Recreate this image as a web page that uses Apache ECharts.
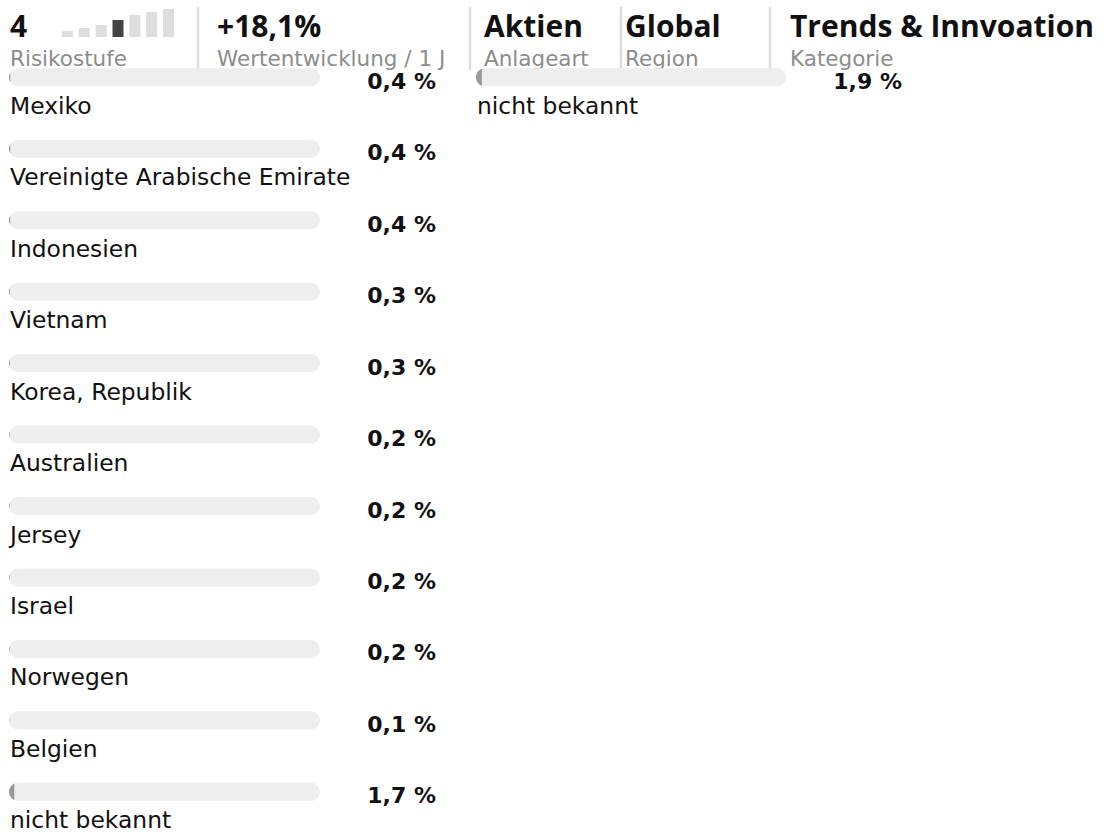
<!DOCTYPE html>
<html>
<head>
<meta charset="utf-8">
<script src="https://cdn.jsdelivr.net/npm/echarts@6/dist/echarts.min.js"></script>
<style>
  html, body { margin: 0; padding: 0; background: #fff; }
  #chart { width: 1119px; height: 832px; }
</style>
</head>
<body>
<div id="chart"></div>
<script>
// Länderanteile (linke Spalte)
var countries = ['Mexiko', 'Vereinigte Arabische Emirate', 'Indonesien', 'Vietnam', 'Korea, Republik',
    'Australien', 'Jersey', 'Israel', 'Norwegen', 'Belgien', 'nicht bekannt'];
var countryShares = [0.4, 0.4, 0.4, 0.3, 0.3, 0.2, 0.2, 0.2, 0.2, 0.1, 1.7];

// zweite Spalte
var otherNames = ['nicht bekannt'];
var otherShares = [1.9];

// Kopfzeile
var headValues = ['4', '+18,1%', 'Aktien', 'Global', 'Trends & Innvoation'];
var headLabels = ['Risikostufe', 'Wertentwicklung / 1 J', 'Anlageart', 'Region', 'Kategorie'];

// Risikoskala 1..7, Balkenhöhen
var riskSteps = ['1', '2', '3', '4', '5', '6', '7'];
var riskBars = [6, 9, 12, 17, 22, 25, 28];
var riskLevel = 4;

var BOLD_FONT = 'bold 30px "Open Sans", sans-serif';
var SUB_FONT = '21.5px "DejaVu Sans", sans-serif';
var NAME_FONT = '23.4px "DejaVu Sans", sans-serif';
var VALUE_FONT = 'bold 22px "DejaVu Sans", sans-serif';
var headX = [10, 217, 484, 625, 790];
var sepX = [198, 470, 621, 770];

function fmt(v) {
    return v.toFixed(1).replace('.', ',') + ' %';
}

function renderShare(names) {
    return function (params, api) {
        var v = api.value(0);
        var idx = api.value(1);
        var start = api.coord([0, idx]);
        var end = api.coord([100, idx]);
        var fillEnd = api.coord([v, idx]);
        var h = 18, r = h / 2;
        var x0 = start[0], cy = start[1], w = end[0] - x0;
        var fw = fillEnd[0] - x0;
        // Füllung, an der runden Kappe abgeschnitten
        var top = [], bottom = [];
        var steps = 24;
        for (var s = 0; s <= steps; s++) {
            var x = fw * s / steps;
            var hh = r;
            if (x < r) hh = Math.sqrt(Math.max(0, r * r - (r - x) * (r - x)));
            else if (x > w - r) hh = Math.sqrt(Math.max(0, r * r - (x - (w - r)) * (x - (w - r))));
            top.push([x0 + x, cy - hh]);
            bottom.unshift([x0 + x, cy + hh]);
        }
        return {
            type: 'group',
            children: [
                { type: 'rect', shape: { x: x0, y: cy - r, width: w, height: h, r: r }, style: { fill: '#eeeeee' } },
                { type: 'polygon', shape: { points: top.concat(bottom) }, style: { fill: '#9a9a9a' } },
                {
                    type: 'text',
                    style: { text: fmt(v), x: end[0] + 116, y: cy + 4, align: 'right', verticalAlign: 'middle',
                        fill: '#111', font: VALUE_FONT }
                },
                {
                    type: 'text',
                    style: { text: names[params.dataIndex], x: x0 + 1, y: cy + 28.5, align: 'left', verticalAlign: 'middle',
                        fill: '#111', font: NAME_FONT }
                }
            ]
        };
    };
}

var graphics = [];
headValues.forEach(function (t, i) {
    graphics.push({ type: 'text', x: headX[i], y: 25.5,
        style: { text: t, fill: '#111', font: BOLD_FONT, verticalAlign: 'middle' } });
});
headLabels.forEach(function (t, i) {
    graphics.push({ type: 'text', x: headX[i], y: 58,
        style: { text: t, fill: '#8c8c8c', font: SUB_FONT, verticalAlign: 'middle' } });
});
sepX.forEach(function (x) {
    graphics.push({ type: 'line', shape: { x1: x, y1: 7, x2: x, y2: 70 }, style: { stroke: '#dddddd', lineWidth: 2.5 } });
});

var chart = echarts.init(document.getElementById('chart'), null, { renderer: 'svg' });

var option = {
    animation: false,
    graphic: graphics,
    grid: [
        { left: 9, top: 41.575, width: 311, height: 785.95 },
        { left: 476, top: 41.575, width: 310, height: 71.45 },
        { left: 59, top: 9, width: 118, height: 28 }
    ],
    xAxis: [
        { gridIndex: 0, type: 'value', min: 0, max: 100, show: false },
        { gridIndex: 1, type: 'value', min: 0, max: 100, show: false },
        { gridIndex: 2, type: 'category', data: riskSteps, show: false }
    ],
    yAxis: [
        { gridIndex: 0, type: 'category', data: countries, inverse: true, show: false },
        { gridIndex: 1, type: 'category', data: otherNames, inverse: true, show: false },
        { gridIndex: 2, type: 'value', min: 0, max: 28, show: false }
    ],
    series: [
        {
            type: 'custom', xAxisIndex: 0, yAxisIndex: 0,
            renderItem: renderShare(countries),
            encode: { x: 0, y: 1 },
            data: countryShares.map(function (v, i) { return [v, i]; })
        },
        {
            type: 'custom', xAxisIndex: 1, yAxisIndex: 1,
            renderItem: renderShare(otherNames),
            encode: { x: 0, y: 1 },
            data: otherShares.map(function (v, i) { return [v, i]; })
        },
        {
            type: 'bar', xAxisIndex: 2, yAxisIndex: 2,
            barWidth: 11,
            data: riskBars.map(function (v, i) {
                return { value: v, itemStyle: { color: i + 1 === riskLevel ? '#444444' : '#dddddd' } };
            })
        }
    ]
};

chart.setOption(option);
window.addEventListener('resize', function () {
    chart.resize();
});
</script>
</body>
</html>
